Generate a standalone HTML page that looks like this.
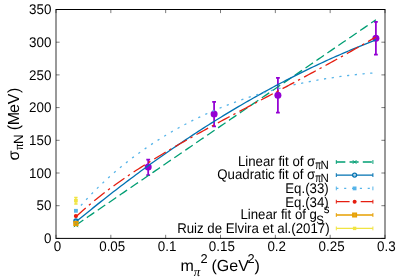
<!DOCTYPE html>
<html><head><meta charset="utf-8"><title>plot</title><style>html,body{margin:0;padding:0;background:#fff;overflow:hidden}svg text{white-space:pre;text-rendering:geometricPrecision}</style></head><body>
<svg width="399" height="279" viewBox="0 0 399 279" style="display:block;will-change:transform">
<rect width="399" height="279" fill="#fff"/>
<path d="M56.00,238.4 v-3.6 M56.00,9.5 v3.6 M110.83,238.4 v-3.6 M110.83,9.5 v3.6 M165.67,238.4 v-3.6 M165.67,9.5 v3.6 M220.50,238.4 v-3.6 M220.50,9.5 v3.6 M275.33,238.4 v-3.6 M275.33,9.5 v3.6 M330.17,238.4 v-3.6 M330.17,9.5 v3.6 M385.00,238.4 v-3.6 M385.00,9.5 v3.6 M56.0,238.40 h3.6 M385.0,238.40 h-3.6 M56.0,205.70 h3.6 M385.0,205.70 h-3.6 M56.0,173.00 h3.6 M385.0,173.00 h-3.6 M56.0,140.30 h3.6 M385.0,140.30 h-3.6 M56.0,107.60 h3.6 M385.0,107.60 h-3.6 M56.0,74.90 h3.6 M385.0,74.90 h-3.6 M56.0,42.20 h3.6 M385.0,42.20 h-3.6 M56.0,9.50 h3.6 M385.0,9.50 h-3.6" stroke="#000" stroke-opacity="0.75" stroke-width="0.7" fill="none"/>
<path d="M55.5,9.5 H385.5 M55.5,238.4 H385.5" stroke="#000" stroke-width="1" fill="none"/>
<path d="M56.0,10.0 V237.9 M385.0,10.0 V237.9" stroke="#000" stroke-opacity="0.8" stroke-width="1" fill="none"/>
<g font-family="Liberation Sans, sans-serif" font-size="13.4px" fill="#000">
<text transform="translate(57.40,251.3) scale(1,1.05)" text-anchor="middle">0</text>
<text transform="translate(112.23,251.3) scale(1,1.05)" text-anchor="middle">0.05</text>
<text transform="translate(167.07,251.3) scale(1,1.05)" text-anchor="middle">0.1</text>
<text transform="translate(221.90,251.3) scale(1,1.05)" text-anchor="middle">0.15</text>
<text transform="translate(276.73,251.3) scale(1,1.05)" text-anchor="middle">0.2</text>
<text transform="translate(331.57,251.3) scale(1,1.05)" text-anchor="middle">0.25</text>
<text transform="translate(386.40,251.3) scale(1,1.05)" text-anchor="middle">0.3</text>
<text transform="translate(51.4,243.10) scale(1,1.05)" text-anchor="end">0</text>
<text transform="translate(51.4,210.40) scale(1,1.05)" text-anchor="end">50</text>
<text transform="translate(51.4,177.70) scale(1,1.05)" text-anchor="end">100</text>
<text transform="translate(51.4,145.00) scale(1,1.05)" text-anchor="end">150</text>
<text transform="translate(51.4,112.30) scale(1,1.05)" text-anchor="end">200</text>
<text transform="translate(51.4,79.60) scale(1,1.05)" text-anchor="end">250</text>
<text transform="translate(51.4,46.90) scale(1,1.05)" text-anchor="end">300</text>
<text transform="translate(51.4,14.20) scale(1,1.05)" text-anchor="end">350</text>
</g>
<g font-family="Liberation Sans, sans-serif" fill="#000">
<text y="270.7" font-size="16px"><tspan x="180.5">m</tspan><tspan x="193.8" dy="5.2" font-size="13px" font-family="Liberation Serif, serif" font-style="italic">π</tspan><tspan x="200.4" dy="-13.0" font-size="12.8px">2</tspan><tspan x="207.1" dy="7.8"> (GeV</tspan><tspan x="247.6" dy="-7.8" font-size="12.8px">2</tspan><tspan x="254.6" dy="7.8">)</tspan></text>
<g transform="translate(18.5,160.0) rotate(-90)" font-size="16px"><text x="-0.5" y="0">σ</text><text transform="translate(9.9,4.7) scale(0.8,1)" font-size="11.6px">π</text><text x="15.9" y="4.7" font-size="13.4px">N</text><text y="0"><tspan x="29.75">(</tspan><tspan x="34.85">M</tspan><tspan x="47.0">e</tspan><tspan x="55.7">V</tspan><tspan x="66.9">)</tspan></text></g>
</g>
<path d="M148.2,159.6 V175.0 M146.29999999999998,159.6 h3.8 M146.29999999999998,175.0 h3.8" stroke="#9400D3" stroke-width="1.75" fill="none"/>
<circle cx="148.2" cy="167.1" r="3.5" fill="#9400D3"/>
<path d="M214.1,101.9 V126.3 M212.2,101.9 h3.8 M212.2,126.3 h3.8" stroke="#9400D3" stroke-width="1.75" fill="none"/>
<circle cx="214.1" cy="114.0" r="3.5" fill="#9400D3"/>
<path d="M277.9,77.95 V112.55 M276.0,77.95 h3.8 M276.0,112.55 h3.8" stroke="#9400D3" stroke-width="1.75" fill="none"/>
<circle cx="277.9" cy="95.25" r="3.5" fill="#9400D3"/>
<path d="M375.9,21.8 V54.5 M374.0,21.8 h3.8 M374.0,54.5 h3.8" stroke="#9400D3" stroke-width="1.75" fill="none"/>
<circle cx="375.9" cy="38.3" r="3.5" fill="#9400D3"/>
<g fill="none" stroke-width="1.3" transform="translate(0,0.35)">
<path d="M75.90,224.78 L78.40,223.07 L80.90,221.36 L83.40,219.65 L85.90,217.94 L88.40,216.23 L90.90,214.51 L93.40,212.80 L95.90,211.09 L98.40,209.38 L100.90,207.67 L103.40,205.96 L105.90,204.25 L108.40,202.54 L110.90,200.83 L113.40,199.12 L115.90,197.40 L118.40,195.69 L120.90,193.98 L123.40,192.27 L125.90,190.56 L128.40,188.85 L130.90,187.14 L133.40,185.43 L135.90,183.72 L138.40,182.01 L140.90,180.29 L143.40,178.58 L145.90,176.87 L148.40,175.16 L150.90,173.45 L153.40,171.74 L155.90,170.03 L158.40,168.32 L160.90,166.61 L163.40,164.90 L165.90,163.18 L168.40,161.47 L170.90,159.76 L173.40,158.05 L175.90,156.34 L178.40,154.63 L180.90,152.92 L183.40,151.21 L185.90,149.50 L188.40,147.79 L190.90,146.07 L193.40,144.36 L195.90,142.65 L198.40,140.94 L200.90,139.23 L203.40,137.52 L205.90,135.81 L208.40,134.10 L210.90,132.39 L213.40,130.68 L215.90,128.96 L218.40,127.25 L220.90,125.54 L223.40,123.83 L225.90,122.12 L228.40,120.41 L230.90,118.70 L233.40,116.99 L235.90,115.28 L238.40,113.57 L240.90,111.85 L243.40,110.14 L245.90,108.43 L248.40,106.72 L250.90,105.01 L253.40,103.30 L255.90,101.59 L258.40,99.88 L260.90,98.17 L263.40,96.46 L265.90,94.74 L268.40,93.03 L270.90,91.32 L273.40,89.61 L275.90,87.90 L278.40,86.19 L280.90,84.48 L283.40,82.77 L285.90,81.06 L288.40,79.35 L290.90,77.63 L293.40,75.92 L295.90,74.21 L298.40,72.50 L300.90,70.79 L303.40,69.08 L305.90,67.37 L308.40,65.66 L310.90,63.95 L313.40,62.24 L315.90,60.52 L318.40,58.81 L320.90,57.10 L323.40,55.39 L325.90,53.68 L328.40,51.97 L330.90,50.26 L333.40,48.55 L335.90,46.84 L338.40,45.13 L340.90,43.41 L343.40,41.70 L345.90,39.99 L348.40,38.28 L350.90,36.57 L353.40,34.86 L355.90,33.15 L358.40,31.44 L360.90,29.73 L363.40,28.02 L365.90,26.30 L368.40,24.59 L370.90,22.88 L373.40,21.17 L375.90,19.46" stroke="#009E73" stroke-dasharray="9.05 4.2"/>
<path d="M75.90,221.58 L78.40,219.51 L80.90,217.45 L83.40,215.39 L85.90,213.35 L88.40,211.32 L90.90,209.29 L93.40,207.28 L95.90,205.27 L98.40,203.27 L100.90,201.28 L103.40,199.31 L105.90,197.34 L108.40,195.38 L110.90,193.43 L113.40,191.49 L115.90,189.56 L118.40,187.63 L120.90,185.72 L123.40,183.82 L125.90,181.92 L128.40,180.04 L130.90,178.16 L133.40,176.30 L135.90,174.44 L138.40,172.59 L140.90,170.75 L143.40,168.92 L145.90,167.10 L148.40,165.29 L150.90,163.49 L153.40,161.70 L155.90,159.92 L158.40,158.14 L160.90,156.38 L163.40,154.63 L165.90,152.88 L168.40,151.14 L170.90,149.42 L173.40,147.70 L175.90,145.99 L178.40,144.29 L180.90,142.61 L183.40,140.93 L185.90,139.25 L188.40,137.59 L190.90,135.94 L193.40,134.30 L195.90,132.67 L198.40,131.04 L200.90,129.43 L203.40,127.82 L205.90,126.22 L208.40,124.64 L210.90,123.06 L213.40,121.49 L215.90,119.93 L218.40,118.38 L220.90,116.84 L223.40,115.31 L225.90,113.79 L228.40,112.28 L230.90,110.78 L233.40,109.28 L235.90,107.80 L238.40,106.32 L240.90,104.86 L243.40,103.40 L245.90,101.95 L248.40,100.52 L250.90,99.09 L253.40,97.67 L255.90,96.26 L258.40,94.86 L260.90,93.47 L263.40,92.09 L265.90,90.71 L268.40,89.35 L270.90,88.00 L273.40,86.65 L275.90,85.32 L278.40,83.99 L280.90,82.68 L283.40,81.37 L285.90,80.07 L288.40,78.78 L290.90,77.50 L293.40,76.23 L295.90,74.97 L298.40,73.72 L300.90,72.48 L303.40,71.25 L305.90,70.02 L308.40,68.81 L310.90,67.60 L313.40,66.41 L315.90,65.22 L318.40,64.05 L320.90,62.88 L323.40,61.72 L325.90,60.57 L328.40,59.43 L330.90,58.30 L333.40,57.18 L335.90,56.07 L338.40,54.97 L340.90,53.87 L343.40,52.79 L345.90,51.72 L348.40,50.65 L350.90,49.60 L353.40,48.55 L355.90,47.51 L358.40,46.49 L360.90,45.47 L363.40,44.46 L365.90,43.46 L368.40,42.47 L370.90,41.49 L373.40,40.51 L375.90,39.55" stroke="#0072B2"/>
<path d="M75.90,211.10 L78.40,208.15 L80.90,205.26 L83.40,202.44 L85.90,199.69 L88.40,197.00 L90.90,194.37 L93.40,191.80 L95.90,189.27 L98.40,186.80 L100.90,184.38 L103.40,182.01 L105.90,179.68 L108.40,177.40 L110.90,175.16 L113.40,172.97 L115.90,170.81 L118.40,168.69 L120.90,166.61 L123.40,164.57 L125.90,162.57 L128.40,160.60 L130.90,158.67 L133.40,156.77 L135.90,154.90 L138.40,153.07 L140.90,151.26 L143.40,149.49 L145.90,147.75 L148.40,146.04 L150.90,144.36 L153.40,142.71 L155.90,141.08 L158.40,139.49 L160.90,137.92 L163.40,136.37 L165.90,134.86 L168.40,133.36 L170.90,131.90 L173.40,130.46 L175.90,129.04 L178.40,127.65 L180.90,126.28 L183.40,124.94 L185.90,123.61 L188.40,122.31 L190.90,121.04 L193.40,119.78 L195.90,118.55 L198.40,117.34 L200.90,116.14 L203.40,114.97 L205.90,113.82 L208.40,112.69 L210.90,111.58 L213.40,110.49 L215.90,109.42 L218.40,108.37 L220.90,107.34 L223.40,106.32 L225.90,105.33 L228.40,104.35 L230.90,103.39 L233.40,102.45 L235.90,101.52 L238.40,100.61 L240.90,99.72 L243.40,98.85 L245.90,97.99 L248.40,97.15 L250.90,96.33 L253.40,95.52 L255.90,94.73 L258.40,93.95 L260.90,93.19 L263.40,92.44 L265.90,91.71 L268.40,91.00 L270.90,90.30 L273.40,89.61 L275.90,88.94 L278.40,88.28 L280.90,87.64 L283.40,87.01 L285.90,86.40 L288.40,85.79 L290.90,85.21 L293.40,84.63 L295.90,84.07 L298.40,83.52 L300.90,82.99 L303.40,82.47 L305.90,81.96 L308.40,81.46 L310.90,80.98 L313.40,80.51 L315.90,80.05 L318.40,79.60 L320.90,79.17 L323.40,78.74 L325.90,78.33 L328.40,77.93 L330.90,77.54 L333.40,77.17 L335.90,76.80 L338.40,76.45 L340.90,76.10 L343.40,75.77 L345.90,75.45 L348.40,75.14 L350.90,74.84 L353.40,74.55 L355.90,74.27 L358.40,74.01 L360.90,73.75 L363.40,73.50 L365.90,73.26 L368.40,73.04 L370.90,72.82 L373.40,72.61 L375.90,72.41" stroke="#56B4E9" stroke-dasharray="2.2 5.565"/>
<path d="M75.90,216.54 L78.40,214.18 L80.90,211.88 L83.40,209.63 L85.90,207.43 L88.40,205.28 L90.90,203.16 L93.40,201.09 L95.90,199.05 L98.40,197.05 L100.90,195.08 L103.40,193.14 L105.90,191.24 L108.40,189.36 L110.90,187.50 L113.40,185.68 L115.90,183.87 L118.40,182.09 L120.90,180.34 L123.40,178.60 L125.90,176.89 L128.40,175.19 L130.90,173.51 L133.40,171.86 L135.90,170.21 L138.40,168.59 L140.90,166.98 L143.40,165.39 L145.90,163.81 L148.40,162.24 L150.90,160.69 L153.40,159.15 L155.90,157.62 L158.40,156.11 L160.90,154.61 L163.40,153.11 L165.90,151.63 L168.40,150.16 L170.90,148.70 L173.40,147.24 L175.90,145.80 L178.40,144.36 L180.90,142.94 L183.40,141.52 L185.90,140.10 L188.40,138.70 L190.90,137.30 L193.40,135.90 L195.90,134.52 L198.40,133.13 L200.90,131.76 L203.40,130.39 L205.90,129.02 L208.40,127.66 L210.90,126.30 L213.40,124.95 L215.90,123.60 L218.40,122.25 L220.90,120.91 L223.40,119.57 L225.90,118.23 L228.40,116.90 L230.90,115.57 L233.40,114.24 L235.90,112.91 L238.40,111.59 L240.90,110.26 L243.40,108.94 L245.90,107.62 L248.40,106.29 L250.90,104.97 L253.40,103.65 L255.90,102.34 L258.40,101.02 L260.90,99.70 L263.40,98.38 L265.90,97.06 L268.40,95.74 L270.90,94.42 L273.40,93.10 L275.90,91.78 L278.40,90.45 L280.90,89.13 L283.40,87.80 L285.90,86.47 L288.40,85.14 L290.90,83.81 L293.40,82.48 L295.90,81.15 L298.40,79.81 L300.90,78.47 L303.40,77.13 L305.90,75.78 L308.40,74.44 L310.90,73.08 L313.40,71.73 L315.90,70.38 L318.40,69.02 L320.90,67.65 L323.40,66.29 L325.90,64.92 L328.40,63.54 L330.90,62.17 L333.40,60.78 L335.90,59.40 L338.40,58.01 L340.90,56.61 L343.40,55.22 L345.90,53.81 L348.40,52.41 L350.90,51.00 L353.40,49.58 L355.90,48.16 L358.40,46.73 L360.90,45.30 L363.40,43.86 L365.90,42.42 L368.40,40.98 L370.90,39.52 L373.40,38.07 L375.90,36.60" stroke="#E51E10" stroke-dasharray="13.3 4.2 2.4 4.5"/>
</g>
<path d="M73.90,223.13 l4.0,4.0 M73.90,227.13 l4.0,-4.0" stroke="#009E73" stroke-width="1.0" fill="none"/>
<circle cx="75.9" cy="220.98" r="2.0" fill="#0072B2" fill-opacity="0.6" stroke="#0072B2" stroke-width="1.3"/>
<rect x="74.00" y="208.90" width="3.8" height="3.8" fill="#56B4E9"/>
<circle cx="75.9" cy="216.1" r="2.1" fill="#E51E10"/>
<rect x="74.15" y="221.85" width="3.5" height="3.5" fill="#E69F00" fill-opacity="0.55" stroke="#E69F00" stroke-width="1.8"/>
<path d="M75.9,197.4 V204.0 M74.2,197.4 h3.4 M74.2,204.0 h3.4" stroke="#F0E442" stroke-width="1.4" fill="none"/>
<rect x="74.05" y="198.75" width="3.7" height="3.7" fill="#F0E442"/>
<g font-family="Liberation Sans, sans-serif" font-size="13.25px" fill="#000">
<text transform="translate(315.30,165.65) scale(1.0,1.06)" text-anchor="end">Linear fit of σ</text><text transform="translate(315.20,169.15) scale(0.72,1.06)" font-size="11.5px" stroke="#000" stroke-width="0.15">π</text><text transform="translate(320.60,169.15) scale(1.0,1.06)" font-size="11.5px">N</text>
<text transform="translate(315.30,178.75) scale(1.0,1.06)" text-anchor="end">Quadratic fit of σ</text><text transform="translate(315.20,182.25) scale(0.72,1.06)" font-size="11.5px" stroke="#000" stroke-width="0.15">π</text><text transform="translate(320.60,182.25) scale(1.0,1.06)" font-size="11.5px">N</text>
<text transform="translate(328.70,192.65) scale(1.0,1.06)" text-anchor="end">Eq.(33)</text>
<text transform="translate(328.70,206.50) scale(1.0,1.06)" text-anchor="end">Eq.(34)</text>
<text transform="translate(317.00,219.25) scale(1.0,1.06)" text-anchor="end">Linear fit of g</text><text transform="translate(316.20,223.65) scale(1.0,1.06)" font-size="11.5px">S</text><text transform="translate(323.70,212.75) scale(1.0,1.06)" font-size="11.5px">s</text>
<text transform="translate(329.60,233.00) scale(1.0,1.06)" text-anchor="end">Ruiz de Elvira et al.(2017)</text>
</g>
<path d="M336.3,162.0 H372.9" stroke="#009E73" stroke-width="1.3" fill="none" stroke-dasharray="9.05 4.2"/><path d="M336.3,160.1 v3.8 M372.9,160.1 v3.8" stroke="#009E73" stroke-width="1.0" fill="none"/>
<path d="M352.80,160.20 l3.6,3.6 M352.80,163.80 l3.6,-3.6" stroke="#009E73" stroke-width="1.0" fill="none"/>
<path d="M336.3,175.1 H372.9" stroke="#0072B2" stroke-width="1.3" fill="none"/><path d="M336.3,173.2 v3.8 M372.9,173.2 v3.8" stroke="#0072B2" stroke-width="1.0" fill="none"/>
<circle cx="354.6" cy="175.1" r="2.0" fill="#fff" fill-opacity="0.5" stroke="#0072B2" stroke-width="1.2"/>
<path d="M336.3,188.4 H372.9" stroke="#56B4E9" stroke-width="1.3" fill="none" stroke-dasharray="2.1 5.75"/><path d="M336.3,186.5 v3.8 M372.9,186.5 v3.8" stroke="#56B4E9" stroke-width="1.0" fill="none"/>
<rect x="352.70" y="186.50" width="3.8" height="3.8" fill="#56B4E9"/>
<path d="M336.3,201.7 H372.9" stroke="#E51E10" stroke-width="1.3" fill="none" stroke-dasharray="13.3 4.2 2.4 4.5"/><path d="M336.3,199.79999999999998 v3.8 M372.9,199.79999999999998 v3.8" stroke="#E51E10" stroke-width="1.0" fill="none"/>
<circle cx="354.6" cy="201.7" r="2.0" fill="#E51E10"/>
<path d="M336.3,215.0 H372.9" stroke="#E69F00" stroke-width="1.3" fill="none"/><path d="M336.3,213.1 v3.8 M372.9,213.1 v3.8" stroke="#E69F00" stroke-width="1.0" fill="none"/>
<rect x="352.80" y="213.20" width="3.6" height="3.6" fill="#E69F00" fill-opacity="0.55" stroke="#E69F00" stroke-width="1.4"/>
<path d="M336.3,228.4 H372.9" stroke="#F0E442" stroke-width="1.3" fill="none"/><path d="M336.3,226.5 v3.8 M372.9,226.5 v3.8" stroke="#F0E442" stroke-width="1.0" fill="none"/>
<rect x="352.90" y="226.70" width="3.4" height="3.4" fill="#F0E442"/>
</svg>
</body></html>
